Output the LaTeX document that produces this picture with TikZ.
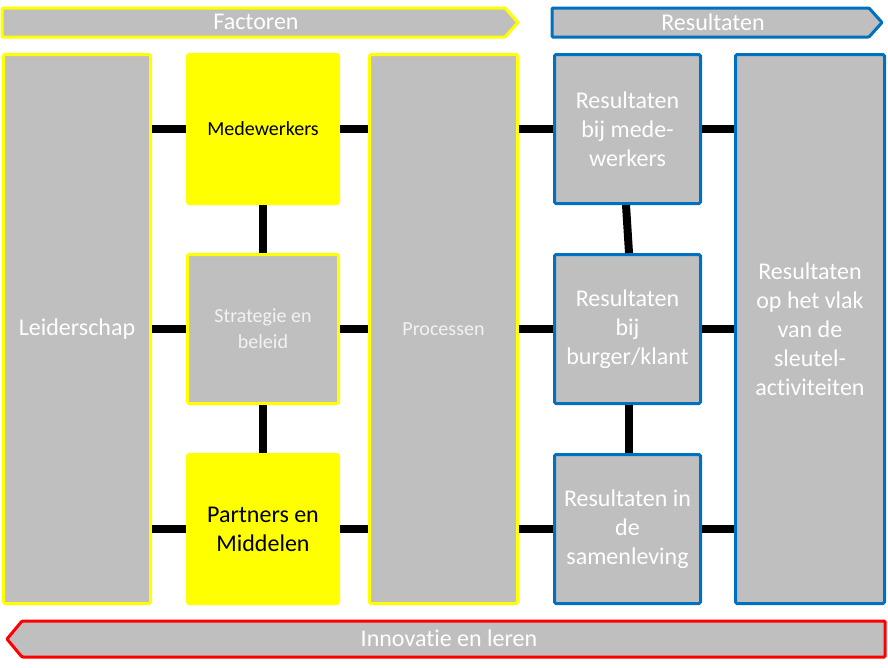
\documentclass[tikz,border=0pt]{standalone}
\usepackage{fontspec}
\setmainfont[Ligatures={NoCommon}]{Carlito}
\definecolor{boxgray}{HTML}{BFBFBF}
\definecolor{ylw}{HTML}{FFFF00}
\definecolor{blu}{HTML}{0070C0}
\definecolor{rd}{HTML}{FF0000}
\definecolor{paletext}{HTML}{F2F2F2}
\begin{document}
\begin{tikzpicture}[x=1pt,y=-1pt,
  big/.style={font=\fontsize{24}{29}\selectfont},
  small/.style={font=\fontsize{20}{26}\selectfont},
  basebox/.style={rectangle, rounded corners=1.5pt, line width=3pt, inner sep=0pt, align=center, text=white},
  ybox/.style={basebox, draw=ylw, fill=boxgray},
  yfill/.style={basebox, draw=ylw, fill=ylw, text=black},
  bbox/.style={basebox, draw=blu, fill=boxgray},
  tall/.style={minimum height=549pt},
  sq/.style={minimum height=149pt},
  link/.style={line width=8pt, black},
  banner/.style={line width=3pt, fill=boxgray, rounded corners=1pt}
]
\useasboundingbox (0,0) rectangle (888,667);

% banners
\draw[banner, draw=ylw] (2,8) -- (505,8) -- (518,22.5) -- (505,37) -- (2,37) -- cycle;
\node[big, text=white] (fact) at (256,22) {Factoren};
\draw[banner, draw=blu] (552,8) -- (869,8) -- (882,22.5) -- (869,37) -- (552,37) -- cycle;
\node[big, text=white] (res) at (713,22) {Resultaten};
\draw[banner, draw=rd] (22,621) -- (885,621) -- (885,657) -- (22,657) -- (7,639) -- cycle;
\node[big, text=white] (inno) at (449,638) {Innovatie en leren};

% boxes
\node[ybox, big, tall, minimum width=147pt] (lead) at (77,329) {Leiderschap};
\node[yfill, small, sq, minimum width=151pt] (mede) at (263,129) {Medewerkers};
\node[ybox, small, sq, minimum width=151pt, text=paletext] (strat) at (263,329) {Strategie en\\beleid};
\node[yfill, big, sq, minimum width=151pt] (part) at (263,529) {Partners en\\Middelen};
\node[ybox, small, tall, minimum width=148pt, text=paletext] (proc) at (443.5,329) {Processen};
\node[bbox, big, sq, minimum width=146pt] (rmede) at (627.5,129) {Resultaten\\bij mede-\\werkers};
\node[bbox, big, sq, minimum width=146pt] (rburg) at (627.5,329) {Resultaten\\bij\\burger/klant};
\node[bbox, big, sq, minimum width=146pt] (rsam) at (627.5,529) {Resultaten in\\de\\samenleving};
\node[bbox, big, tall, minimum width=149pt] (rsleut) at (810,329) {Resultaten\\op het vlak\\van de\\sleutel-\\activiteiten};

% connectors
\foreach \m/\r in {mede/rmede, strat/rburg, part/rsam}{
  \draw[link] (lead.east |- \m.west) -- (\m.west);
  \draw[link] (\m.east) -- (proc.west |- \m.east);
  \draw[link] (proc.east |- \r.west) -- (\r.west);
  \draw[link] (\r.east) -- (rsleut.west |- \r.east);
}
\draw[link] (mede.south) -- (strat.north);
\draw[link] (strat.south) -- (part.north);
\draw[link] ([xshift=-1.5pt]rmede.south) -- ([xshift=1.5pt]rburg.north);
\draw[link] ([xshift=1.5pt]rburg.south) -- ([xshift=1.5pt]rsam.north);
\end{tikzpicture}
\end{document}
